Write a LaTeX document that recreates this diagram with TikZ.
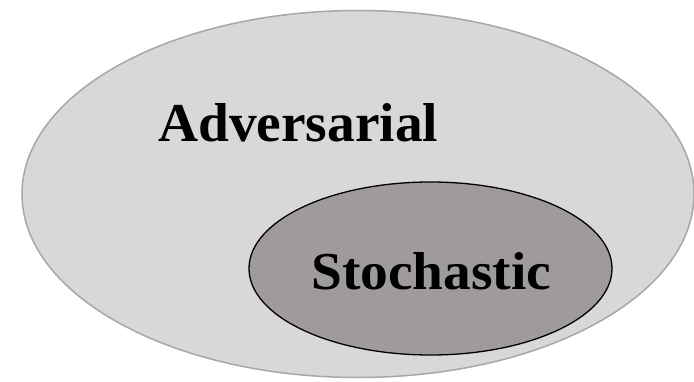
\documentclass[tikz,border=0pt]{standalone}
\usepackage{fontspec}
\setmainfont{Liberation Serif}
\definecolor{outerfill}{HTML}{D9D7D8}
\definecolor{outerline}{HTML}{A8A6A7}
\definecolor{innerfill}{HTML}{9E9B9A}
\tikzset{
  outerset/.style={fill=outerfill,draw=outerline,line width=1.5pt},
  innerset/.style={fill=innerfill,draw=black,line width=1.3pt},
  setlabel/.style={font=\bfseries,inner sep=0pt,anchor=base west}
}
\begin{document}
\begin{tikzpicture}[x=1pt,y=-1pt]
\useasboundingbox (0,0) rectangle (694,382);
\begin{scope}
\clip (0,0) rectangle (694,382);
\path[outerset] (358,194) ellipse [x radius=336, y radius=183.5];
\end{scope}
\path[innerset] (430.5,268.5) ellipse [x radius=181.5, y radius=86.5];
\node[setlabel] (adv) at (158,142) {\resizebox{280pt}{38pt}{Adversarial}};
\node[setlabel] (sto) at (311,290) {\resizebox{240pt}{37pt}{Stochastic}};
\end{tikzpicture}
\end{document}
